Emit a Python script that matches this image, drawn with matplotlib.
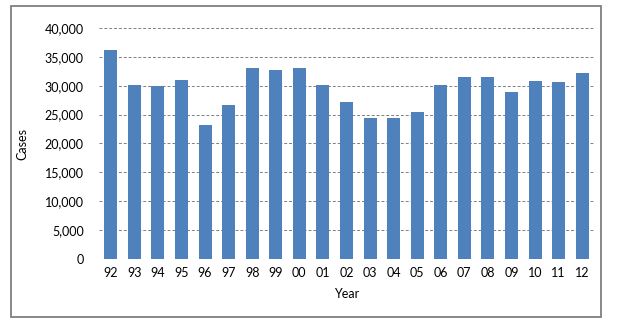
import matplotlib
matplotlib.use('Agg')
import matplotlib.pyplot as plt
from matplotlib.patches import Rectangle
from matplotlib.ticker import FuncFormatter

# cases per year, 1992-2012
years = ['92', '93', '94', '95', '96', '97', '98', '99', '00', '01', '02',
         '03', '04', '05', '06', '07', '08', '09', '10', '11', '12']
cases = [36200, 30200, 29900, 31000, 23200, 26700, 33000, 32800, 33000, 30200, 27200,
         24400, 24400, 25400, 30200, 31600, 31600, 29000, 30900, 30700, 32200]
y_ticks = [0, 5000, 10000, 15000, 20000, 25000, 30000, 35000, 40000]

plt.rcParams['font.family'] = ['Lato', 'DejaVu Sans']
fig = plt.figure(figsize=(6.25, 3.28), dpi=100)
ax = fig.add_axes([0.1584, 0.2104, 0.792, 0.7042])

ax.bar(range(len(years)), cases, width=0.55, color='#4F81BD', zorder=3)
ax.set_xlim(-0.5, len(years) - 0.5)
ax.set_ylim(0, 40000)
ax.set_yticks(y_ticks)
ax.yaxis.set_major_formatter(FuncFormatter(lambda v, p: '{:,.0f}'.format(v)))
ax.set_xticks(range(len(years)))
ax.set_xticklabels(years)
ax.tick_params(axis='both', length=0, labelsize=9, colors='black')
ax.tick_params(axis='x', pad=6)
ax.tick_params(axis='y', pad=11)
ax.grid(axis='y', color='#808080', linestyle=(0, (3, 2)), linewidth=0.7, zorder=0)
for s in ax.spines.values():
    s.set_visible(False)

ax.set_xlabel('Year', fontsize=9, labelpad=6)
ax.set_ylabel('Cases', fontsize=9, labelpad=12)

# outer frame around the chart area
fig.patches.append(Rectangle((0.0176, 0.0335), 0.944, 0.9482, transform=fig.transFigure,
                             fill=False, edgecolor='#7f7f7f', linewidth=1.3))

fig.savefig('out.png', dpi=100)
